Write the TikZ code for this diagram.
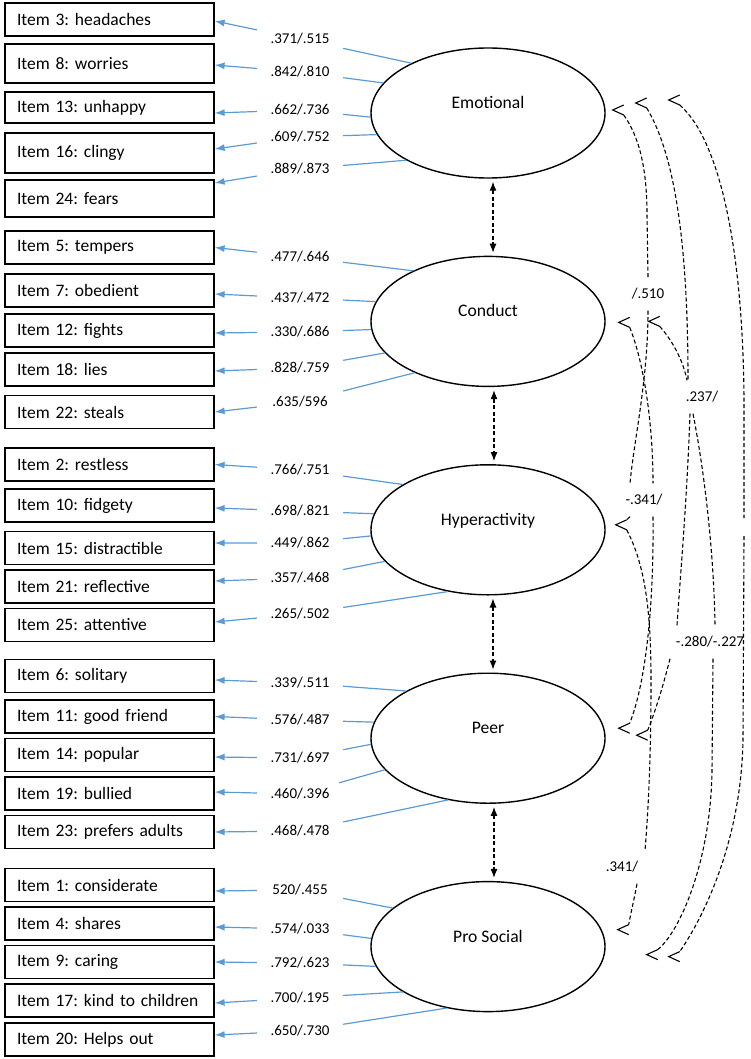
\documentclass[tikz,border=0pt]{standalone}
\usepackage{fontspec}
\setmainfont{Carlito}
\frenchspacing
\usetikzlibrary{arrows.meta, shapes.geometric, positioning}
\definecolor{loadblue}{RGB}{91,155,213}
\tikzset{barb/.pic={\draw[solid, line width=1.1pt] (11,-5) -- (0,0) -- (11,5);}}

\begin{document}
\begin{tikzpicture}[x=1pt, y=-1pt,
    item/.style={draw, line width=1.2pt, inner xsep=12pt, text width=185pt, minimum height=33pt, align=left, font=\fontsize{17.5}{20}\selectfont},
    factor/.style={draw, ellipse, line width=1.4pt, minimum width=234pt, minimum height=130pt, inner sep=0pt, text height=12pt, text depth=21pt, font=\fontsize{17.6}{20}\selectfont},
    lab/.style={minimum width=86pt, minimum height=22pt, inner sep=0pt, font=\fontsize{15}{17}\selectfont},
    load/.style={draw=loadblue, line width=1.2pt, -{Latex[length=10pt,width=7pt]}},
    cov/.style={line width=1.1pt, dash pattern=on 4pt off 2.5pt, {Latex[length=9pt,width=7pt]}-{Latex[length=9pt,width=7pt]}, shorten <=3pt, shorten >=3pt},
    corr/.style={line width=1.1pt, dash pattern=on 4pt off 2.5pt},
    clab/.style={inner xsep=2pt, inner ysep=11pt, font=\fontsize{15}{17}\selectfont}]
    \useasboundingbox (0,0) rectangle (750,1059);

    % factors
    \node[factor] (emo) at (488,113) {Emotional};
    \node[factor, below=77pt of emo] (con) {Conduct};
    \node[factor, below=77pt of con] (hyp) {Hyperactivity};
    \node[factor, below=77pt of hyp] (peer) {Peer};
    \node[factor, below=77pt of peer] (pro) {Pro Social};

    \draw[cov] ([xshift=5pt]emo.south) -- ([xshift=5pt]con.north);
    \draw[cov] ([xshift=6pt]con.south) -- ([xshift=6pt]hyp.north);
    \draw[cov] ([xshift=5pt]hyp.south) -- ([xshift=5pt]peer.north);
    \draw[cov] ([xshift=6pt]peer.south) -- ([xshift=6pt]pro.north);

    % items
    \node[item] (i3) at (109.5,19.5) {Item 3: headaches};
    \node[item, minimum height=39pt] (i8) at (109.5,63.5) {Item 8: worries};
    \node[item, minimum height=31pt] (i13) at (109.5,107.5) {Item 13: unhappy};
    \node[item, minimum height=40pt] (i16) at (109.5,153) {Item 16: clingy};
    \node[item, minimum height=37pt] (i24) at (109.5,198.5) {Item 24: fears};

    \node[item] (i5) at (109.5,247.5) {Item 5: tempers};
    \node[item] (i7) at (109.5,290.5) {Item 7: obedient};
    \node[item] (i12) at (109.5,330.5) {Item 12: fights};
    \node[item] (i18) at (109.5,369.5) {Item 18: lies};
    \node[item] (i22) at (109.5,412) {Item 22: steals};

    \node[item] (i2) at (109.5,464.5) {Item 2: restless};
    \node[item] (i10) at (109.5,505.5) {Item 10: fidgety};
    \node[item] (i15) at (109.5,548) {Item 15: distractible};
    \node[item] (i21) at (109.5,586.5) {Item 21: reflective};
    \node[item] (i25) at (109.5,625) {Item 25: attentive};

    \node[item] (i6) at (109.5,676) {Item 6: solitary};
    \node[item] (i11) at (109.5,716.5) {Item 11: good friend};
    \node[item] (i14) at (109.5,755) {Item 14: popular};
    \node[item] (i19) at (109.5,793.5) {Item 19: bullied};
    \node[item] (i23) at (109.5,832) {Item 23: prefers adults};

    \node[item] (i1) at (109.5,885) {Item 1: considerate};
    \node[item] (i4) at (109.5,923.5) {Item 4: shares};
    \node[item] (i9) at (109.5,962) {Item 9: caring};
    \node[item] (i17) at (109.5,1000.5) {Item 17: kind to children};
    \node[item] (i20) at (109.5,1039.5) {Item 20: Helps out};

    % loadings
    \node[lab] (e1) at (300,39) {.371/.515};
    \node[lab] (e2) at (300,72) {.842/.810};
    \node[lab] (e3) at (300,110) {.662/.736};
    \node[lab] (e4) at (300,137) {.609/.752};
    \node[lab] (e5) at (300,169) {.889/.873};
    \draw[load] (emo.147) -- (e1) -- ([yshift=-1.5pt]i3.east);
    \draw[load] (emo.164) -- (e2) -- ([yshift=-1.5pt]i8.east);
    \draw[load] (emo.182) -- (e3) -- ([yshift=-5.5pt]i13.east);
    \draw[load] (emo.191) -- (e4) -- ([yshift=4pt]i16.east);
    \draw[load] (emo.210) -- (e5) -- ([yshift=15.5pt]i24.east);

    \node[lab] (c1) at (300,257) {.477/.646};
    \node[lab] (c2) at (300,298) {.437/.472};
    \node[lab] (c3) at (300,332) {.330/.686};
    \node[lab] (c4) at (300,368) {.828/.759};
    \node[lab] (c5) at (300,402) {.635/596};
    \draw[load] (con.146) -- (c1) -- (i5.east);
    \draw[load] (con.170) -- (c2) -- ([yshift=-3.5pt]i7.east);
    \draw[load] (con.184) -- (c3) -- ([yshift=-2.5pt]i12.east);
    \draw[load] (con.197) -- (c4) -- ([yshift=-1.5pt]i18.east);
    \draw[load] (con.215) -- (c5) -- (i22.east);

    \node[lab] (h1) at (300,470) {.766/.751};
    \node[lab] (h2) at (300,511) {.698/.821};
    \node[lab] (h3) at (300,543) {.449/.862};
    \node[lab] (h4) at (300,578) {.357/.468};
    \node[lab] (h5) at (300,614) {.265/.502};
    \draw[load] (hyp.152) -- (h1) -- (i2.east);
    \draw[load] (hyp.172) -- (h2) -- ([yshift=-2.5pt]i10.east);
    \draw[load] (hyp.183) -- (h3) -- ([yshift=5pt]i15.east);
    \draw[load] (hyp.197) -- (h4) -- ([yshift=5.5pt]i21.east);
    \draw[load] (hyp.237) -- (h5) -- ([yshift=3pt]i25.east);

    \node[lab] (p1) at (300,683) {.339/.511};
    \node[lab] (p2) at (300,720) {.576/.487};
    \node[lab] (p3) at (300,758) {.731/.697};
    \node[lab] (p4) at (300,794) {.460/.396};
    \node[lab] (p5) at (300,831) {.468/.478};
    \draw[load] (peer.150) -- (p1) -- ([yshift=-4pt]i6.east);
    \draw[load] (peer.172) -- (p2) -- (i11.east);
    \draw[load] (peer.183) -- (p3) -- ([yshift=-2pt]i14.east);
    \draw[load] (peer.197) -- (p4) -- ([yshift=1.5pt]i19.east);
    \draw[load] (peer.237) -- (p5) -- (i23.east);

    \node[lab] (s1) at (300,890) {520/.455};
    \node[lab] (s2) at (300,929) {.574/.033};
    \node[lab] (s3) at (300,963) {.792/.623};
    \node[lab] (s4) at (300,998) {.700/.195};
    \node[lab] (s5) at (300,1031) {.650/.730};
    \draw[load] (pro.158) -- (s1) -- ([yshift=-6pt]i1.east);
    \draw[load] (pro.176) -- (s2) -- ([yshift=-3.5pt]i4.east);
    \draw[load] (pro.190) -- (s3) -- (i9.east);
    \draw[load] (pro.208) -- (s4) -- ([yshift=-2.5pt]i17.east);
    \draw[load] (pro.236) -- (s5) -- ([yshift=4.5pt]i20.east);

    % correlations between factors
    \path ([shift={(7,-3)}]emo.east) coordinate (eA) pic {barb};
    \path ([shift={(30,-10)}]emo.east) coordinate (eB) pic {barb};
    \path ([shift={(63,-13)}]emo.east) coordinate (eC) pic {barb};
    \path ([shift={(13,1)}]con.east) coordinate (cA) pic {barb};
    \path ([shift={(43,0)}]con.east) coordinate (cB) pic {barb};
    \path ([shift={(10,-5)}]hyp.east) coordinate (hA) pic {barb};
    \path ([shift={(13,-10)}]peer.east) coordinate (pA) pic {barb};
    \path ([shift={(31,-3)}]peer.east) coordinate (pB) pic {barb};
    \path ([shift={(12,-17)}]pro.east) coordinate (sA) pic {barb};
    \path ([shift={(41,8)}]pro.east) coordinate (sB) pic {barb};
    \path ([shift={(63,10)}]pro.east) coordinate (sC) pic {barb};

    \node[clab] (l510) at (648,294) {/.510};
    \node[clab] (l237) at (702,397) {.237/};
    \node[clab] (l341) at (644,500) {-.341/};
    \node[clab] (l280) at (710,642) {-.280/-.227};
    \node[clab] (l341b) at (622,867) {.341/};

    % emotional - hyperactivity
    \draw[corr] ([shift={(11,5)}]eA) .. controls (638,135) and (647,165) .. (647,215) -- (l510.north)
        (l510.south) .. controls (648,380) and (634,440) .. ([xshift=-14pt]l341.north)
        ([xshift=-14pt]l341.south) -- ([shift={(11,-5)}]hA);
    % conduct - peer
    \draw[corr] ([shift={(11,5)}]cA) .. controls (643,360) and (653,420) .. ([xshift=9pt]l341.north)
        ([xshift=9pt]l341.south) .. controls (654,610) and (645,685) .. ([shift={(11,-5)}]pA);
    % hyperactivity - pro social
    \draw[corr] ([shift={(11,5)}]hA) .. controls (645,565) and (651,610) .. (651,680) .. controls (651,760) and (648,815) .. ([xshift=23pt]l341b.north)
        ([xshift=15pt]l341b.south) .. controls (634,900) and (631,912) .. ([shift={(11,-5)}]sA);
    % emotional - peer
    \draw[corr] ([shift={(11,5)}]eB) .. controls (672,150) and (688,230) .. ([xshift=-14pt]l237.north)
        ([xshift=-12pt]l237.south) .. controls (687,500) and (680,580) .. ([xshift=-33pt]l280.north)
        ([xshift=-40pt]l280.south) .. controls (662,690) and (655,712) .. ([shift={(11,-5)}]pB);
    % conduct - pro social
    \draw[corr] ([shift={(11,5)}]cB) .. controls (672,340) and (683,360) .. ([xshift=-15pt]l237.north)
        ([xshift=-9pt]l237.south) .. controls (706,480) and (714,560) .. ([xshift=5pt]l280.north)
        ([xshift=3pt]l280.south) -- (712,770) .. controls (711,860) and (680,932) .. ([shift={(11,-5)}]sB);
    % emotional - pro social
    \draw[corr] ([shift={(11,5)}]eC) .. controls (720,140) and (743,250) .. (744,400) -- (744,518)
        (744,536) -- (743,740) .. controls (741,850) and (697,927) .. ([shift={(11,-5)}]sC);
\end{tikzpicture}
\end{document}
